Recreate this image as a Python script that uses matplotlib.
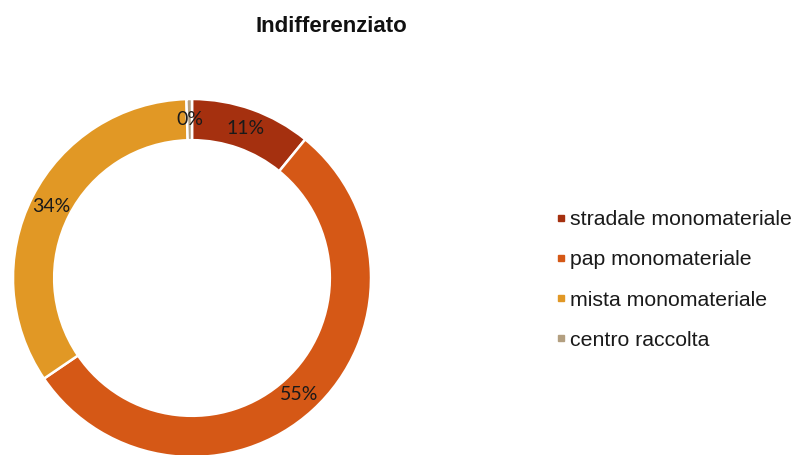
import matplotlib
matplotlib.use("Agg")
import matplotlib.pyplot as plt
from matplotlib.lines import Line2D

title = "Indifferenziato"
categories = ["stradale monomateriale", "pap monomateriale", "mista monomateriale", "centro raccolta"]
values = [10.9, 54.6, 34.0, 0.5]
colors = ["#A5300F", "#D55816", "#E19825", "#B39F80"]

W, H = 798, 455
fig = plt.figure(figsize=(W / 100, H / 100), dpi=100)

cx, cy, r = 192, 278, 179
ax = fig.add_axes([(cx - r) / W, (H - cy - r) / H, 2 * r / W, 2 * r / H])
ring = 0.23
wedges, texts, autotexts = ax.pie(
    values, colors=colors, startangle=90, counterclock=False, radius=1,
    autopct="%.0f%%", pctdistance=1 - ring / 2,
    wedgeprops=dict(width=ring, edgecolor="white", linewidth=1.8),
    textprops=dict(fontsize=14, family=["Lato", "DejaVu Sans"], color="#1a1a1a"),
)
ax.set_xlim(-1, 1)
ax.set_ylim(-1, 1)
ax.set_aspect("equal")
ax.axis("off")

fig.text(331 / W, 1 - 27 / H, title, ha="center", va="center",
         fontsize=16, fontweight="bold", family=["Liberation Sans", "DejaVu Sans"], color="#111111")

handles = [Line2D([], [], linestyle="none", marker="s", markersize=5, markerfacecolor=c,
                  markeredgecolor=c) for c in colors]
leg = fig.legend(handles, categories, loc="center left", bbox_to_anchor=(544 / W, 1 - 280 / H),
                 frameon=False, prop=dict(family=["Liberation Sans", "DejaVu Sans"], size=15.3),
                 handlelength=0.6, handletextpad=0.1, labelspacing=1.0, borderpad=0)
for t in leg.get_texts():
    t.set_color("#1a1a1a")

fig.savefig("out.png", dpi=100, facecolor="white")
